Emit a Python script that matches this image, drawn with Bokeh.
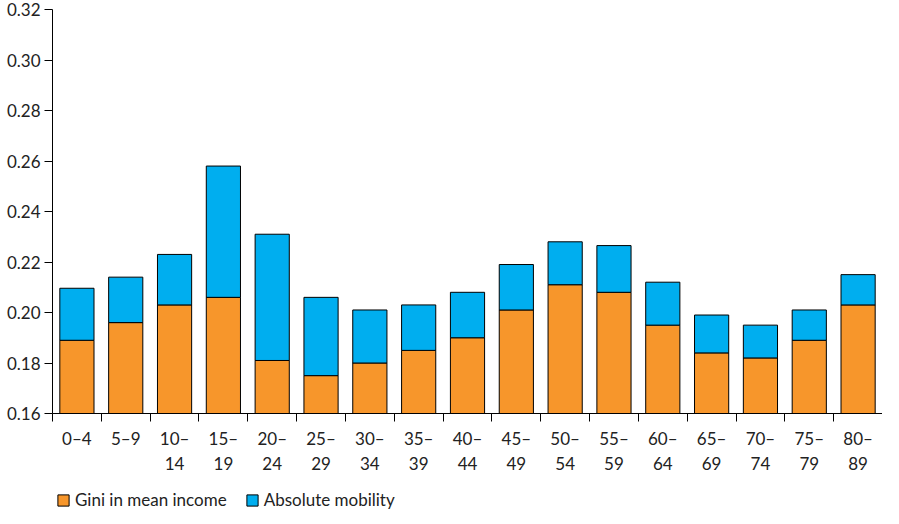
from bokeh.plotting import figure
from bokeh.layouts import column
from bokeh.models import FixedTicker, Range1d, Legend, LegendItem, NumeralTickFormatter
from bokeh.embed import file_html
from bokeh.resources import INLINE

groups = ["0–4", "5–9", "10–\n14", "15–\n19", "20–\n24", "25–\n29", "30–\n34", "35–\n39",
          "40–\n44", "45–\n49", "50–\n54", "55–\n59", "60–\n64", "65–\n69", "70–\n74",
          "75–\n79", "80–\n89"]
gini = [0.189, 0.196, 0.203, 0.206, 0.181, 0.175, 0.180, 0.185, 0.190, 0.201, 0.211,
        0.208, 0.195, 0.184, 0.182, 0.189, 0.203]
total = [0.2096, 0.214, 0.223, 0.258, 0.231, 0.206, 0.201, 0.203, 0.208, 0.219, 0.228,
         0.2265, 0.212, 0.199, 0.195, 0.201, 0.215]

xs = list(range(len(groups)))
base = 0.16
font = "Lato"
c_gini = "#F7962B"
c_mob = "#00AEEF"

p = figure(frame_width=830, frame_height=404, output_backend="svg", toolbar_location=None,
           x_range=Range1d(-0.5, len(groups) - 0.5), y_range=Range1d(0.16, 0.32),
           min_border_left=52, min_border_right=0, min_border_top=9, min_border_bottom=0)
p.outline_line_color = None
p.grid.grid_line_color = None

p.vbar(x=xs, bottom=base, top=gini, width=0.7, fill_color=c_gini, line_color="black")
p.vbar(x=xs, bottom=gini, top=total, width=0.7, fill_color=c_mob, line_color="black")

p.yaxis.ticker = FixedTicker(ticks=[0.16 + 0.02 * i for i in range(9)])
p.yaxis.formatter = NumeralTickFormatter(format="0.00")
p.yaxis.minor_tick_line_color = None
p.yaxis.major_tick_out = 8
p.yaxis.major_tick_in = 0
p.yaxis.major_label_standoff = 4

p.xaxis.ticker = FixedTicker(ticks=xs, minor_ticks=[i - 0.5 for i in range(len(groups) + 1)])
p.xaxis.major_label_overrides = {i: g for i, g in enumerate(groups)}
p.xaxis.major_tick_line_color = None
p.xaxis.minor_tick_out = 8
p.xaxis.minor_tick_in = 0
p.xaxis.major_label_standoff = 6

for ax in (p.xaxis, p.yaxis):
    ax.major_label_text_font = font
    ax.major_label_text_font_size = "17px"
    ax.major_label_text_color = "#222222"
    ax.axis_line_color = "black"

# legend lives in its own strip under the chart
lg = figure(width=882, height=38, output_backend="svg", toolbar_location=None,
            x_range=Range1d(0, 1), y_range=Range1d(0, 1), min_border=0)
lg.axis.visible = False
lg.grid.grid_line_color = None
lg.outline_line_color = None
r1 = lg.rect(x=[5], y=[5], width=1, height=1, fill_color=c_gini, line_color="black")
r2 = lg.rect(x=[5], y=[5], width=1, height=1, fill_color=c_mob, line_color="black")
legend = Legend(items=[LegendItem(label="Gini in mean income", renderers=[r1]),
                       LegendItem(label="Absolute mobility", renderers=[r2])],
                orientation="horizontal", label_text_font=font, label_text_font_size="17px",
                label_text_color="#222222",
                border_line_color=None, background_fill_alpha=0, glyph_width=14, glyph_height=14,
                spacing=18, margin=0, padding=2, location=(4, 4))
lg.add_layout(legend, "center")

open("out.html", "w").write(file_html(column(p, lg, spacing=0), INLINE))
